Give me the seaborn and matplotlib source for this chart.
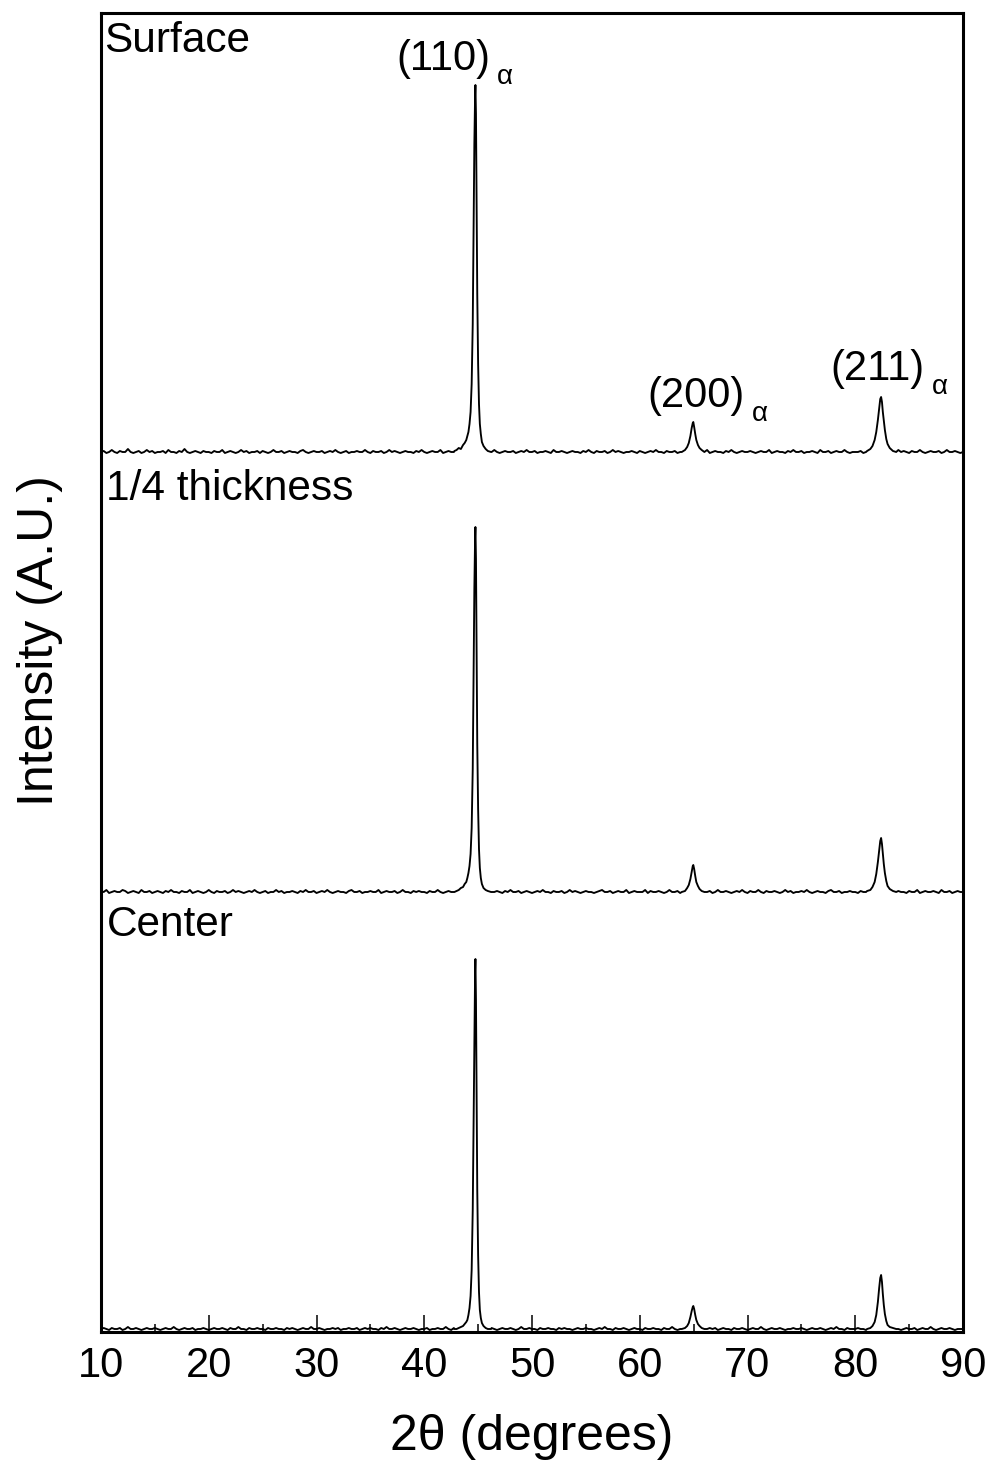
import numpy as np
import pandas as pd
import matplotlib
matplotlib.use("Agg")
import matplotlib.pyplot as plt
import seaborn as sns
from matplotlib.ticker import MultipleLocator

# ---------------------------------------------------------------- data
samples = ["Surface", "1/4 thickness", "Center"]

# background scan, every 0.25 deg from 10 to 90 deg
grid_start, grid_stop, grid_step = 10.0, 90.0, 0.25

surface_background = [
    2, 3, 1, 2, 4, 2, 1, 3, 2, 2, 5, 2, 1, 2, 3, 1, 2, 4, 2, 3,
    1, 2, 2, 3, 1, 4, 2, 2, 1, 3, 2, 5, 2, 1, 2, 3, 2, 1, 3, 2,
    2, 1, 3, 2, 2, 4, 1, 2, 3, 2, 1, 2, 4, 2, 3, 1, 2, 2, 3, 1,
    3, 2, 1, 2, 4, 2, 2, 3, 1, 2, 3, 2, 2, 1, 3, 4, 2, 1, 2, 3,
    2, 2, 3, 1, 2, 3, 2, 4, 2, 1, 2, 3, 1, 2, 2, 3, 2, 2, 4, 2,
    1, 3, 2, 2, 3, 1, 2, 4, 2, 3, 2, 1, 2, 3, 2, 2, 1, 3, 2, 4,
    2, 1, 2, 3, 2, 2, 4, 1, 2, 3, 2, 2, 3, 1, 2, 4, 2, 3, 2, 1,
    3, 2, 2, 1, 3, 2, 4, 2, 1, 2, 3, 2, 2, 3, 1, 2, 3, 2, 4, 2,
    2, 3, 1, 2, 2, 3, 2, 1, 4, 2, 2, 3, 2, 1, 2, 3, 2, 2, 1, 3,
    2, 4, 2, 1, 3, 2, 2, 3, 1, 2, 4, 2, 3, 2, 1, 2, 2, 3, 2, 1,
    3, 2, 1, 2, 3, 2, 4, 2, 2, 1, 3, 2, 2, 3, 1, 2, 4, 2, 2, 3,
    1, 2, 3, 2, 2, 4, 1, 2, 3, 2, 2, 1, 3, 2, 4, 2, 1, 2, 3, 2,
    2, 3, 2, 1, 2, 3, 2, 2, 4, 1, 2, 3, 2, 2, 1, 3, 2, 4, 2, 2,
    3, 1, 2, 2, 3, 2, 1, 4, 2, 2, 3, 1, 2, 3, 2, 2, 4, 2, 1, 2,
    2, 2, 3, 1, 2, 4, 2, 2, 3, 2, 1, 2, 3, 2, 2, 1, 4, 2, 3, 2,
    1, 3, 2, 2, 4, 2, 1, 2, 3, 2, 2, 3, 1, 2, 4, 2, 2, 3, 2, 1,
    2,
]

quarter_background = [
    3, 2, 4, 1, 2, 3, 2, 2, 4, 3, 1, 2, 3, 2, 1, 4, 2, 2, 3, 1,
    2, 3, 2, 1, 3, 2, 4, 2, 2, 1, 3, 2, 2, 4, 1, 2, 3, 2, 1, 2,
    4, 2, 1, 3, 2, 2, 3, 1, 2, 4, 2, 3, 2, 1, 2, 3, 2, 4, 2, 1,
    2, 3, 1, 2, 2, 4, 2, 3, 1, 2, 2, 3, 2, 1, 3, 2, 4, 2, 2, 3,
    1, 2, 3, 2, 4, 2, 1, 2, 3, 2, 2, 1, 3, 4, 2, 2, 3, 1, 2, 2,
    3, 2, 2, 4, 1, 2, 3, 2, 2, 3, 1, 2, 4, 2, 2, 1, 3, 2, 3, 2,
    2, 1, 3, 2, 2, 4, 2, 1, 2, 3, 2, 2, 3, 1, 4, 2, 2, 3, 2, 1,
    2, 4, 2, 3, 1, 2, 2, 3, 2, 1, 3, 2, 4, 2, 2, 3, 1, 2, 3, 2,
    1, 2, 3, 2, 4, 2, 2, 1, 3, 2, 2, 3, 1, 2, 4, 2, 3, 2, 1, 2,
    3, 2, 2, 1, 2, 3, 4, 2, 2, 3, 1, 2, 3, 2, 2, 4, 1, 2, 3, 2,
    2, 2, 4, 1, 3, 2, 2, 3, 2, 1, 2, 4, 2, 2, 3, 1, 2, 3, 2, 2,
    4, 1, 2, 3, 2, 2, 3, 1, 2, 4, 2, 2, 3, 2, 1, 2, 3, 2, 4, 2,
    1, 3, 2, 2, 4, 2, 1, 3, 2, 2, 3, 2, 1, 2, 4, 2, 3, 1, 2, 2,
    3, 2, 4, 2, 1, 2, 3, 2, 2, 1, 3, 4, 2, 2, 3, 1, 2, 2, 3, 2,
    2, 1, 3, 2, 2, 4, 2, 3, 1, 2, 2, 3, 2, 4, 1, 2, 3, 2, 2, 1,
    3, 2, 2, 4, 1, 2, 3, 2, 2, 3, 2, 1, 4, 2, 2, 3, 1, 2, 3, 2,
    2,
]

center_background = [
    1, 2, 1, 0, 2, 1, 1, 2, 0, 1, 3, 1, 1, 2, 1, 0, 1, 2, 1, 1,
    2, 1, 0, 1, 2, 1, 1, 3, 1, 0, 1, 2, 1, 1, 2, 0, 1, 1, 2, 1,
    0, 1, 2, 1, 1, 2, 1, 0, 2, 1, 1, 3, 1, 1, 0, 2, 1, 1, 2, 1,
    1, 0, 2, 1, 1, 2, 1, 1, 0, 2, 1, 2, 1, 0, 1, 2, 1, 1, 3, 1,
    1, 2, 1, 0, 1, 1, 2, 1, 2, 0, 1, 1, 2, 1, 1, 2, 0, 1, 2, 1,
    2, 1, 1, 0, 2, 1, 3, 1, 1, 2, 1, 0, 1, 2, 1, 1, 2, 1, 0, 1,
    1, 2, 0, 1, 1, 2, 1, 1, 3, 1, 0, 2, 1, 1, 2, 1, 1, 0, 2, 1,
    0, 1, 2, 1, 1, 2, 1, 0, 1, 2, 1, 1, 2, 1, 0, 1, 3, 1, 1, 2,
    1, 1, 0, 2, 1, 1, 2, 1, 1, 0, 2, 1, 2, 1, 1, 0, 1, 2, 1, 1,
    2, 1, 1, 0, 1, 2, 1, 3, 1, 1, 0, 2, 1, 1, 2, 1, 0, 1, 2, 1,
    1, 0, 2, 1, 1, 2, 1, 1, 0, 2, 1, 1, 3, 1, 0, 1, 2, 1, 1, 2,
    1, 2, 1, 0, 1, 1, 2, 1, 2, 0, 1, 2, 1, 1, 0, 2, 1, 1, 2, 1,
    0, 1, 2, 1, 1, 3, 1, 0, 1, 2, 1, 1, 2, 1, 0, 1, 1, 2, 1, 1,
    2, 1, 0, 1, 2, 1, 1, 2, 1, 0, 1, 2, 1, 3, 1, 1, 0, 2, 1, 1,
    1, 2, 1, 1, 0, 2, 1, 1, 2, 1, 0, 1, 2, 1, 1, 2, 1, 0, 1, 2,
    1, 1, 2, 0, 1, 2, 1, 1, 3, 1, 0, 1, 2, 1, 1, 2, 1, 0, 1, 1,
    1,
]

# (110) alpha-Fe reflection
peak110_angle = [42.8, 43.0, 43.2, 43.4, 43.6, 43.75, 43.9, 44.0, 44.1, 44.2,
                 44.3, 44.4, 44.5, 44.58, 44.65, 44.72, 44.75, 44.8, 44.86,
                 44.92, 45.0, 45.08, 45.16, 45.25, 45.35, 45.5, 45.7, 45.9, 46.2]
surface_110 = [3, 4, 6, 5, 9, 11, 14, 18, 22, 30, 42, 70, 130, 220, 310, 360,
               369, 340, 250, 160, 90, 50, 30, 20, 12, 8, 5, 3, 2]
quarter_110 = [2, 3, 4, 6, 7, 10, 12, 16, 21, 28, 40, 66, 125, 215, 305, 358,
               367, 335, 245, 150, 85, 45, 26, 16, 10, 6, 4, 3, 2]
center_110 = [1, 1, 2, 3, 4, 6, 8, 10, 15, 22, 34, 60, 120, 210, 300, 360,
              371, 330, 240, 140, 75, 38, 20, 12, 7, 4, 2, 1, 1]

# (200) alpha-Fe reflection
peak200_angle = [63.9, 64.2, 64.4, 64.55, 64.7, 64.82, 64.92, 64.97, 65.05,
                 65.15, 65.25, 65.4, 65.55, 65.75, 66.0]
surface_200 = [2, 4, 7, 11, 18, 26, 31, 32, 27, 20, 14, 9, 6, 4, 2]
quarter_200 = [2, 3, 6, 9, 15, 22, 28, 29, 25, 18, 12, 8, 5, 3, 2]
center_200 = [1, 2, 4, 7, 13, 19, 23, 24, 21, 15, 10, 6, 4, 2, 1]

# (211) alpha-Fe reflection
peak211_angle = [81.1, 81.4, 81.6, 81.8, 81.95, 82.1, 82.22, 82.32, 82.4,
                 82.48, 82.56, 82.65, 82.75, 82.88, 83.0, 83.2, 83.5, 83.8]
surface_211 = [3, 5, 8, 14, 22, 34, 46, 55, 57, 52, 42, 33, 24, 15, 10, 6, 3, 2]
quarter_211 = [3, 4, 7, 12, 20, 32, 44, 53, 56, 50, 40, 30, 21, 13, 8, 5, 3, 2]
center_211 = [1, 2, 4, 8, 15, 28, 42, 52, 55, 48, 36, 25, 16, 9, 5, 3, 2, 1]

peak_labels = ["(110)", "(200)", "(211)"]
phase_symbol = "α"
x_ticks = [10, 20, 30, 40, 50, 60, 70, 80, 90]

# ------------------------------------------------------- assemble scans
background = {"Surface": surface_background,
              "1/4 thickness": quarter_background,
              "Center": center_background}
peaks = {"Surface": [surface_110, surface_200, surface_211],
         "1/4 thickness": [quarter_110, quarter_200, quarter_211],
         "Center": [center_110, center_200, center_211]}
peak_angles = [peak110_angle, peak200_angle, peak211_angle]

# vertical stacking of the three scans
stack_offset = {"Surface": 878, "1/4 thickness": 438, "Center": 2}

grid = np.arange(grid_start, grid_stop + grid_step / 2, grid_step)
frames = []
for name in samples:
    bg = np.asarray(background[name], dtype=float)
    keep = np.ones_like(grid, dtype=bool)
    for ang in peak_angles:
        keep &= ~((grid >= ang[0]) & (grid <= ang[-1]))
    xs = [grid[keep]]
    ys = [bg[keep]]
    for ang, vals in zip(peak_angles, peaks[name]):
        xs.append(np.asarray(ang, dtype=float))
        ys.append(np.asarray(vals, dtype=float))
    x = np.concatenate(xs)
    y = np.concatenate(ys) + stack_offset[name]
    order = np.argsort(x)
    frames.append(pd.DataFrame({"two_theta": x[order],
                                "intensity": y[order],
                                "sample": name}))
df = pd.concat(frames, ignore_index=True)

# ---------------------------------------------------------------- style
sns.set_theme(style="white")
plt.rcParams["font.family"] = ["Liberation Sans", "DejaVu Sans"]
plt.rcParams["text.color"] = "black"

fig = plt.figure(figsize=(9.92, 14.82), dpi=100)
ax = fig.add_axes([101 / 992, 1 - 1332 / 1482, 862 / 992, 1319 / 1482])

sns.lineplot(data=df, x="two_theta", y="intensity", hue="sample",
             palette=["black"] * 3, estimator=None, sort=True,
             linewidth=1.35, legend=False, ax=ax)

ax.set_xlim(10, 90)
ax.set_ylim(0, 1319)
ax.set_xticks(x_ticks)
ax.xaxis.set_minor_locator(MultipleLocator(5))
ax.set_yticks([])
ax.tick_params(axis="x", which="major", direction="in", length=12,
               width=1.1, color="black", labelsize=30, pad=10,
               bottom=True, top=False, labelcolor="black")
ax.tick_params(axis="x", which="minor", direction="in", length=6,
               width=1.1, color="black", bottom=True, top=False)
for sp in ax.spines.values():
    sp.set_visible(True)
    sp.set_linewidth(2.2)
    sp.set_color("black")

ax.set_xlabel("2θ (degrees)", fontsize=36, labelpad=20, color="black")
ax.set_ylabel("Intensity (A.U.)", fontsize=36, labelpad=27, color="black",
              y=0.524)

# sample names
sample_pos = {"Surface": (10.3, 1280), "1/4 thickness": (10.5, 832),
              "Center": (10.5, 396)}
for name in samples:
    sx, sy = sample_pos[name]
    ax.text(sx, sy, name, fontsize=30.5, ha="left", va="baseline")

# reflection indices with a lowered alpha subscript
label_pos = [(46.1, 1262), (69.77, 925), (86.47, 952)]
for lab, (lx, ly) in zip(peak_labels, label_pos):
    ax.text(lx, ly, lab, fontsize=30, ha="right", va="baseline")
    ax.annotate(phase_symbol, xy=(lx, ly), xytext=(5, -10),
                textcoords="offset points", fontsize=20, ha="left",
                va="baseline")

fig.savefig("out.png", dpi=100)
